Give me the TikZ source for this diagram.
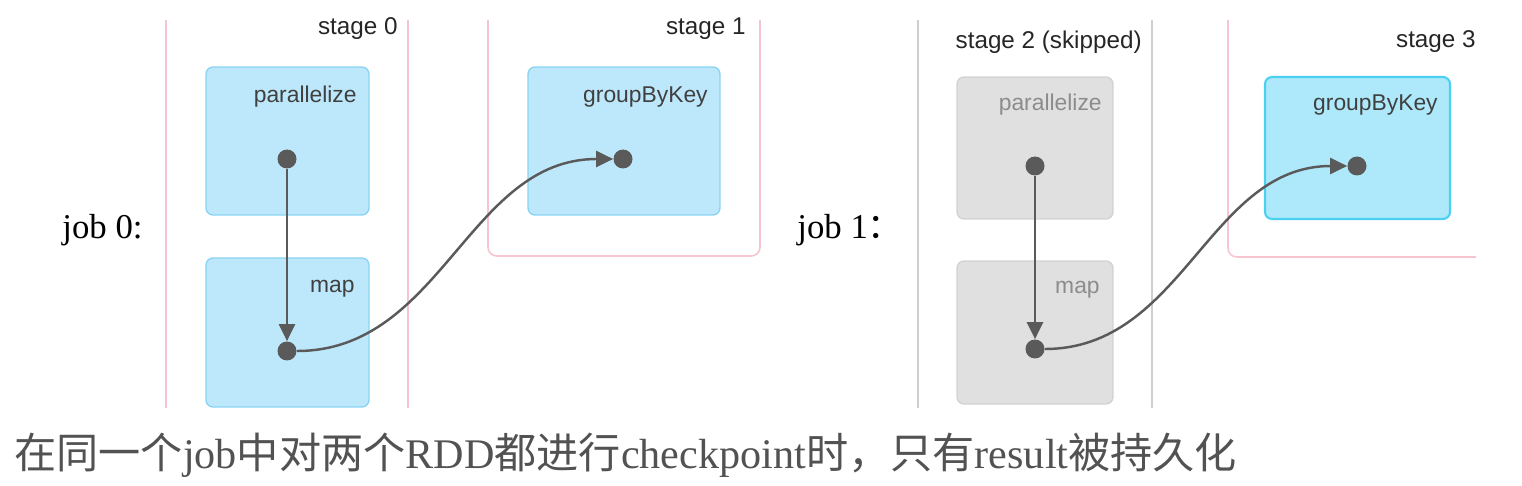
\documentclass[tikz,border=0pt]{standalone}
\usepackage{fontspec}
\setmainfont{Liberation Serif}
\setsansfont{Liberation Sans}
\newfontfamily\cjk{Noto Sans CJK SC}
\usetikzlibrary{arrows.meta,positioning}
\definecolor{rddblue}{HTML}{BDE8FB}
\definecolor{rddedge}{HTML}{8AD3F2}
\definecolor{hotblue}{HTML}{AEE9FB}
\definecolor{hotedge}{HTML}{4CD0F2}
\definecolor{skipfill}{HTML}{E0E0E0}
\definecolor{skipedge}{HTML}{D2D2D2}
\definecolor{stagepink}{HTML}{F7C5D0}
\definecolor{stagegray}{HTML}{CFCFCF}
\definecolor{ink}{HTML}{5A5A5A}

\begin{document}
\begin{tikzpicture}[x=0.02cm, y=-0.02cm,
  rdd/.style={draw=rddedge, fill=rddblue, rounded corners=4pt, line width=0.8pt,
              minimum width=3.26cm, minimum height=2.96cm},
  hot/.style={rdd, draw=hotedge, fill=hotblue, line width=1.2pt},
  skip/.style={rdd, draw=skipedge, fill=skipfill},
  dot/.style={circle, fill=ink, inner sep=0pt, minimum size=0.38cm},
  lbl/.style={font=\sffamily\fontsize{13}{15}\selectfont, text=black!75, anchor=east, inner sep=0pt},
  stagelbl/.style={lbl, text=black!85, font=\sffamily\fontsize{13.8}{16}\selectfont},
  frame/.style={draw=stagepink, line width=0.9pt, rounded corners=5pt},
  flow/.style={draw=ink, line width=1.4pt, -{Triangle[length=0.34cm, width=0.32cm]}}]
  \useasboundingbox (0,0) rectangle (1522,486);

  % job 0
  \node[font=\fontsize{19.8}{22}\selectfont, anchor=west, inner sep=0pt] (job0) at (62,230) {job 0:};
  \draw[frame] (166,20) -- (166,408);
  \draw[frame] (408,20) -- (408,408);
  \node[stagelbl] (st0) at (398,29) {stage 0};
  \draw[frame] (488,20) -- (488,256) -- (760,256) -- (760,20);
  \node[stagelbl] (st1) at (746,29) {stage 1};

  \node[rdd] (par0) at (287.5,141) {};
  \node[rdd, minimum height=2.98cm] (map0) at (287.5,332.5) {};
  \node[rdd, minimum width=3.84cm] (grp1) at (624,141) {};
  \node[lbl] at (357,97) {parallelize};
  \node[lbl] at (355,289) {map};
  \node[lbl] at (708,97) {groupByKey};

  \node[dot] (p0) at (287,159) {};
  \node[dot] (m0) at (287,351) {};
  \node[dot] (g1) at (623,159) {};
  \draw[flow] (p0) -- (m0);
  \draw[flow] (m0) to[out=0, in=180] (g1);

  % job 1
  \node[font=\fontsize{19.8}{22}\selectfont, anchor=west, inner sep=0pt] (job1) at (797,230) {job 1{\cjk ：}};
  \draw[draw=stagegray, line width=0.9pt] (918,20) -- (918,408);
  \draw[draw=stagegray, line width=0.9pt] (1152,20) -- (1152,408);
  \node[stagelbl] (st2) at (1142,42) {stage 2 (skipped)};
  \draw[frame] (1228,20) -- (1228,257) -- (1476,257);
  \node[stagelbl] (st3) at (1476,42) {stage 3};

  \node[skip, minimum width=3.12cm, minimum height=2.84cm] (par2) at (1035,148) {};
  \node[skip, minimum width=3.12cm, minimum height=2.86cm] (map2) at (1035,332.5) {};
  \node[hot, minimum width=3.7cm, minimum height=2.84cm] (grp3) at (1357.5,148) {};
  \node[lbl, text=black!45] at (1102,105) {parallelize};
  \node[lbl, text=black!45] at (1100,290) {map};
  \node[lbl] at (1438,105) {groupByKey};

  \node[dot] (p2) at (1035,166) {};
  \node[dot] (m2) at (1035,349) {};
  \node[dot] (g3) at (1357,166) {};
  \draw[flow] (p2) -- (m2);
  \draw[flow] (m2) to[out=0, in=180] (g3);

  % caption
  \node[anchor=west, inner sep=0pt, text=black!68, font=\fontsize{24}{28}\selectfont] (cap) at (14,455)
    {{\cjk 在同一个}job{\cjk 中对两个}RDD{\cjk 都进行}checkpoint{\cjk 时，只有}result{\cjk 被持久化}};
\end{tikzpicture}
\end{document}
